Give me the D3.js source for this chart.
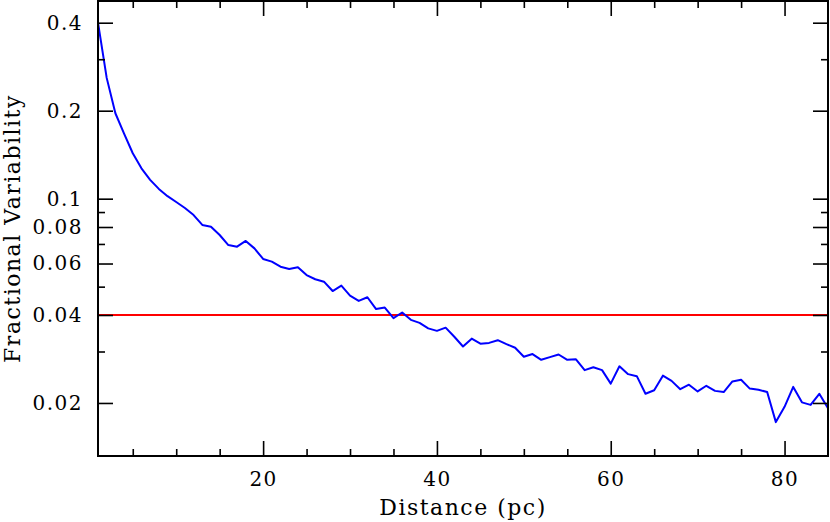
<!DOCTYPE html>
<html>
<head>
<meta charset="utf-8">
<script src="https://cdn.jsdelivr.net/npm/d3@7"></script>
<style>
  body { margin: 0; background: #fff; }
  svg { display: block; }
  .tick text { font-family: "DejaVu Serif", serif; font-size: 20px; letter-spacing: 1.5px; fill: #000; }
  .tick line { stroke: #000; stroke-width: 1.6px; }
</style>
</head>
<body>
<svg id="chart" width="830" height="522"></svg>
<script>
// distance in pc, one sample per pc
const distance = d3.range(1, 86);
const fracVar = [
  0.400, 0.259, 0.196, 0.167, 0.143, 0.127, 0.116, 0.108, 0.102, 0.0974,
  0.0929, 0.0879, 0.0813, 0.0802, 0.0751, 0.0694, 0.0685, 0.0717, 0.0676, 0.0622,
  0.0609, 0.0585, 0.0575, 0.0583, 0.0548, 0.0530, 0.0520, 0.0483, 0.0504, 0.0466,
  0.0447, 0.0460, 0.0419, 0.0424, 0.0390, 0.0408, 0.0385, 0.0376, 0.0360, 0.0353,
  0.0362, 0.0337, 0.0312, 0.0332, 0.0319, 0.0321, 0.0328, 0.0318, 0.0309, 0.0288,
  0.0294, 0.0281, 0.0287, 0.0293, 0.0281, 0.0282, 0.0259, 0.0265, 0.0259, 0.0233,
  0.0267, 0.0251, 0.0247, 0.0215, 0.0221, 0.0248, 0.0238, 0.0223, 0.0231, 0.0219,
  0.0229, 0.0220, 0.0218, 0.0237, 0.0240, 0.0224, 0.0222, 0.0218, 0.0172, 0.0194,
  0.0227, 0.0201, 0.0197, 0.0215, 0.0192
];
const threshold = 0.04;

const xMajorTicks = [20, 40, 60, 80];
const xMinorTicks = [5, 10, 15, 25, 30, 35, 45, 50, 55, 65, 70, 75];
const yMajorTicks = [0.4, 0.2, 0.1, 0.08, 0.06, 0.04, 0.02];
const yMinorTicks = [0.3, 0.09, 0.07, 0.05, 0.03];
const yTickLabels = ["0.4", "0.2", "0.1", "0.08", "0.06", "0.04", "0.02"];

const svg = d3.select("#chart");
const margin = { top: 1, right: 2, bottom: 66, left: 98 };
const width = +svg.attr("width") - margin.left - margin.right;
const height = +svg.attr("height") - margin.top - margin.bottom;
const g = svg.append("g")
    .attr("transform", "translate(" + margin.left + "," + margin.top + ")");

const x = d3.scaleLinear().domain([1, 85]).range([0, width]);
const y = d3.scaleLog().domain([0.01317, 0.4746]).range([height, 0]);

const line = d3.line()
    .x((d, i) => x(distance[i]))
    .y(d => y(d));

// threshold line
g.append("path")
    .attr("fill", "none")
    .attr("stroke", "#ff0000")
    .attr("stroke-width", "2px")
    .attr("d", d3.line().x(d => x(d)).y(() => y(threshold))([1, 85]));

g.append("path")
    .attr("fill", "none")
    .attr("stroke", "#0000ff")
    .attr("stroke-width", "2px")
    .attr("stroke-linejoin", "round")
    .attr("d", line(fracVar));

function drawAxis(axis, tx, ty) {
    const a = g.append("g")
        .attr("transform", "translate(" + tx + "," + ty + ")")
        .call(axis);
    a.select(".domain").remove();
    return a;
}

// bottom / top
drawAxis(d3.axisBottom(x).tickValues(xMajorTicks).tickSize(-15).tickPadding(14).tickFormat(d3.format("d")), 0, height)
    .selectAll("text").attr("dy", "0.78em");
drawAxis(d3.axisBottom(x).tickValues(xMinorTicks).tickSize(-7).tickFormat(""), 0, height);
drawAxis(d3.axisTop(x).tickValues(xMajorTicks).tickSize(-15).tickFormat(""), 0, 0);
drawAxis(d3.axisTop(x).tickValues(xMinorTicks).tickSize(-7).tickFormat(""), 0, 0);

// left / right
drawAxis(d3.axisLeft(y).tickValues(yMajorTicks).tickSize(-15).tickPadding(15)
    .tickFormat((d, i) => yTickLabels[i]), 0, 0);
drawAxis(d3.axisLeft(y).tickValues(yMinorTicks).tickSize(-7).tickFormat(""), 0, 0);
drawAxis(d3.axisRight(y).tickValues(yMajorTicks).tickSize(-15).tickFormat(""), width, 0);
drawAxis(d3.axisRight(y).tickValues(yMinorTicks).tickSize(-7).tickFormat(""), width, 0);

// frame
g.append("rect")
    .attr("x", 0).attr("y", 0)
    .attr("width", width).attr("height", height)
    .attr("fill", "none")
    .attr("stroke", "#000")
    .attr("stroke-width", "2px");

svg.append("text")
    .attr("x", margin.left + width / 2)
    .attr("y", 515)
    .attr("text-anchor", "middle")
    .attr("font-family", "DejaVu Serif, serif")
    .attr("font-size", "22px")
    .attr("letter-spacing", "1.5px")
    .text("Distance (pc)");

svg.append("text")
    .attr("transform", "translate(20," + (margin.top + height / 2) + ") rotate(-90)")
    .attr("text-anchor", "middle")
    .attr("font-family", "DejaVu Serif, serif")
    .attr("font-size", "22px")
    .attr("letter-spacing", "1.5px")
    .text("Fractional Variability");
</script>
</body>
</html>
